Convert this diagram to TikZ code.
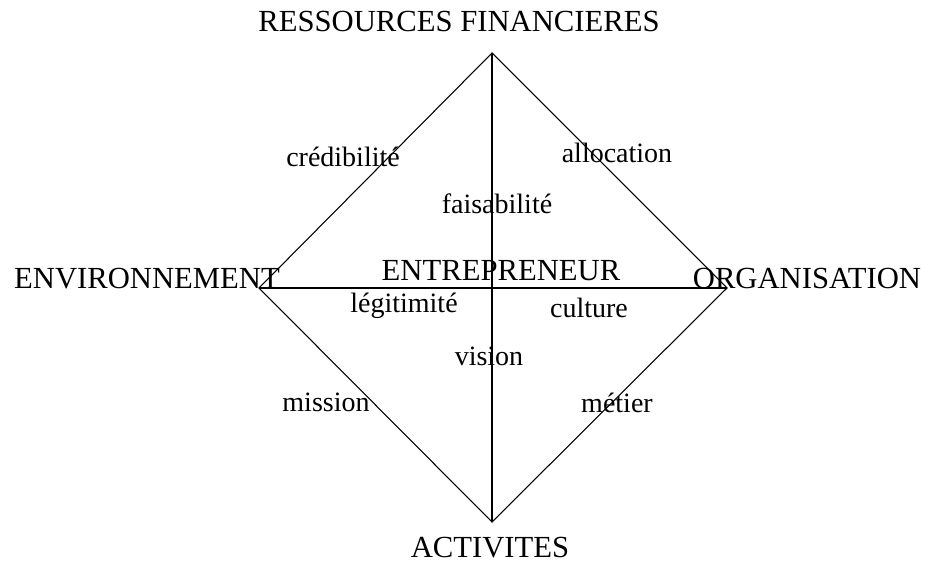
\documentclass[tikz,border=0pt]{standalone}
\usepackage{fontspec}
\setmainfont{Liberation Serif}
\begin{document}
\begin{tikzpicture}[x=0.75pt, y=-0.75pt,
    pole/.style={anchor=base, inner sep=0pt, font=\fontsize{23}{26}\selectfont},
    lien/.style={anchor=base, inner sep=0pt, font=\fontsize{21}{24}\selectfont}]
  \useasboundingbox (0,0) rectangle (929,563);
  %\draw[help lines, step=50] (0,0) grid (929,563);

  % sommets du losange
  \coordinate (haut) at (492,53);
  \coordinate (bas) at (492,522);
  \coordinate (gauche) at (259,288);
  \coordinate (droite) at (727,288);

  \draw[line width=0.8pt] (haut)--(droite)--(bas)--(gauche)--cycle;
  \draw[line width=1.2pt] (haut)--(bas);
  \draw[line width=1.2pt] (gauche)--(droite);

  % les quatre poles et le centre
  \node[pole] (ressources) at (459, 32) {RESSOURCES FINANCIERES};
  \node[pole] (environnement) at (147, 288) {ENVIRONNEMENT};
  \node[pole] (organisation) at (807, 288) {ORGANISATION};
  \node[pole] (activites) at (490, 557) {ACTIVITES};
  \node[pole] (entrepreneur) at (501, 281) {ENTREPRENEUR};

  % les liens
  \node[lien] (credibilite) at (343, 167) {crédibilité};
  \node[lien] (allocation) at (617, 163) {allocation};
  \node[lien] (faisabilite) at (497, 214) {faisabilité};
  \node[lien] (legitimite) at (404, 313) {légitimité};
  \node[lien] (culture) at (589, 318) {culture};
  \node[lien] (vision) at (489, 365) {vision};
  \node[lien] (mission) at (326, 411) {mission};
  \node[lien] (metier) at (617, 412) {métier};
\end{tikzpicture}
\end{document}
